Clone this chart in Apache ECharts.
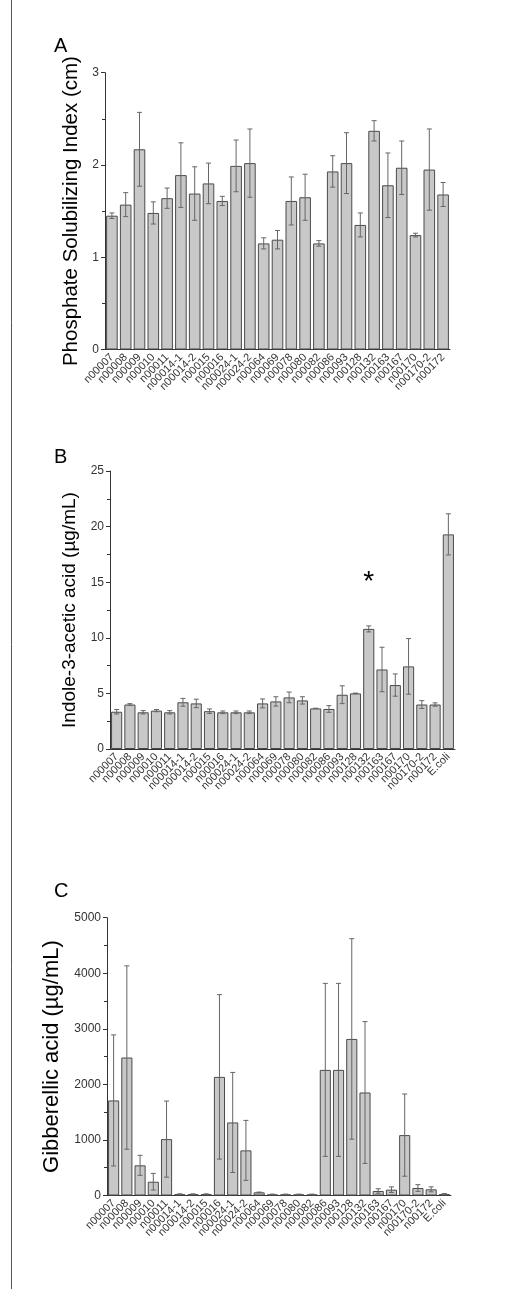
<!DOCTYPE html>
<html>
<head>
<meta charset="utf-8">
<script src="https://cdn.jsdelivr.net/npm/echarts@6/dist/echarts.min.js"></script>
<style>
  html, body { margin: 0; padding: 0; background: #fff; }
  #main { width: 511px; height: 1289px; }
</style>
</head>
<body>
<div id="main"></div>
<script>
// strains, panel A (no E.coli control)
var strainsA = ['n00007', 'n00008', 'n00009', 'n00010', 'n00011', 'n00014-1', 'n00014-2', 'n00015',
  'n00016', 'n00024-1', 'n00024-2', 'n00064', 'n00069', 'n00078', 'n00080', 'n00082', 'n00086',
  'n00093', 'n00128', 'n00132', 'n00163', 'n00167', 'n00170', 'n00170-2', 'n00172']
// panels B and C add the E.coli control
var strainsBC = strainsA.concat(['E.coli'])

// A: phosphate solubilizing index (cm)
var psiMean = [1.45, 1.57, 2.17, 1.48, 1.64, 1.89, 1.69, 1.80, 1.61, 1.99, 2.02, 1.15, 1.19, 1.61, 1.65,
  1.15, 1.93, 2.02, 1.35, 2.37, 1.78, 1.97, 1.24, 1.95, 1.68]
var psiErr = [0.03, 0.13, 0.40, 0.12, 0.11, 0.35, 0.29, 0.22, 0.05, 0.28, 0.37, 0.06, 0.10, 0.26, 0.25,
  0.03, 0.17, 0.33, 0.13, 0.11, 0.35, 0.29, 0.02, 0.44, 0.13]

// B: indole-3-acetic acid (ug/mL)
var iaaMean = [3.35, 4.0, 3.3, 3.45, 3.3, 4.2, 4.1, 3.4, 3.3, 3.3, 3.3, 4.1, 4.28, 4.64, 4.37, 3.65, 3.6,
  4.88, 5.0, 10.8, 7.15, 5.75, 7.43, 4.0, 4.0, 19.3]
var iaaErr = [0.2, 0.08, 0.15, 0.1, 0.15, 0.35, 0.38, 0.2, 0.12, 0.12, 0.12, 0.4, 0.42, 0.48, 0.33, 0.02,
  0.3, 0.8, 0.03, 0.27, 2.0, 1.0, 2.5, 0.35, 0.15, 1.85]

// C: gibberellic acid (ug/mL)
var gaMean = [1711, 2483, 543, 248, 1015, 25, 25, 25, 2135, 1315, 812, 57, 20, 20, 20, 20, 2261, 2261,
  2818, 1854, 81, 105, 1087, 135, 111, 25]
var gaErr = [1180, 1650, 180, 150, 685, 5, 5, 5, 1480, 900, 540, 5, 5, 5, 5, 5, 1557, 1557, 1804, 1276,
  40, 50, 740, 60, 45, 10]

// significance mark in B
var starStrain = 'n00132'
var starValue = 15.0

var myChart = echarts.init(document.getElementById('main'))
var font = 'Liberation Sans, Arial, sans-serif'

function xAxisFor (idx, cats) {
  return {
    type: 'category',
    gridIndex: idx,
    data: cats,
    axisLine: { lineStyle: { color: '#333', width: 1 } },
    axisTick: { alignWithLabel: true, length: 4, lineStyle: { color: '#333' } },
    axisLabel: { rotate: 45, interval: 0, fontSize: 11, color: '#333', fontFamily: font, margin: 6 }
  }
}

function yAxisFor (idx, max, step, name, gap, nameSize) {
  return {
    type: 'value',
    gridIndex: idx,
    min: 0,
    max: max,
    interval: step,
    name: name,
    nameLocation: 'middle',
    nameGap: gap,
    nameTextStyle: { fontSize: nameSize, color: '#000', fontFamily: font },
    splitLine: { show: false },
    axisLine: { show: true, lineStyle: { color: '#333', width: 1 } },
    axisTick: { show: true, length: 4, lineStyle: { color: '#333' } },
    minorTick: { show: true, splitNumber: 2, length: 3, lineStyle: { color: '#333' } },
    axisLabel: {
      fontSize: 12, color: '#333', fontFamily: font, margin: 6,
      formatter: function (v) { return String(v) }
    }
  }
}

function barSeries (idx, values) {
  return {
    type: 'bar',
    xAxisIndex: idx,
    yAxisIndex: idx,
    data: values,
    barWidth: '84%',
    itemStyle: { color: '#c8c8c8', borderColor: '#4a4a4a', borderWidth: 1 },
    silent: true
  }
}

function errorSeries (idx, means, errs) {
  return {
    type: 'custom',
    xAxisIndex: idx,
    yAxisIndex: idx,
    z: 5,
    silent: true,
    encode: { x: 0, y: [1, 2] },
    data: means.map(function (m, i) { return [i, Math.max(0, m - errs[i]), m + errs[i]] }),
    renderItem: function (params, api) {
      var lo = api.coord([api.value(0), api.value(1)])
      var hi = api.coord([api.value(0), api.value(2)])
      var w = 2.5
      var st = { stroke: '#666', lineWidth: 1 }
      return {
        type: 'group',
        children: [
          { type: 'line', shape: { x1: hi[0], y1: hi[1], x2: lo[0], y2: lo[1] }, style: st },
          { type: 'line', shape: { x1: hi[0] - w, y1: hi[1], x2: hi[0] + w, y2: hi[1] }, style: st },
          { type: 'line', shape: { x1: lo[0] - w, y1: lo[1], x2: lo[0] + w, y2: lo[1] }, style: st }
        ]
      }
    }
  }
}

var iaaBars = barSeries(1, iaaMean)
iaaBars.markPoint = {
  symbol: 'circle',
  symbolSize: 0,
  data: [{ coord: [starStrain, starValue] }],
  label: { show: true, formatter: '*', fontSize: 28, color: '#000', fontFamily: font, position: 'inside' }
}

var option = {
  animation: false,
  backgroundColor: '#fff',
  title: [
    { text: 'A', left: 49, top: 31, textStyle: { fontSize: 20, fontWeight: 'normal', color: '#000', fontFamily: font } },
    { text: 'B', left: 49, top: 442, textStyle: { fontSize: 20, fontWeight: 'normal', color: '#000', fontFamily: font } },
    { text: 'C', left: 49, top: 876, textStyle: { fontSize: 20, fontWeight: 'normal', color: '#000', fontFamily: font } }
  ],
  graphic: [
    { type: 'line', shape: { x1: 11.5, y1: 0, x2: 11.5, y2: 1289 }, style: { stroke: '#555', lineWidth: 1 } }
  ],
  grid: [
    { left: 105, right: 61, top: 72.7, bottom: 939.5 },
    { left: 110, right: 56, top: 471, bottom: 540 },
    { left: 107, right: 60, top: 917.7, bottom: 93.5 }
  ],
  xAxis: [xAxisFor(0, strainsA), xAxisFor(1, strainsBC), xAxisFor(2, strainsBC)],
  yAxis: [
    yAxisFor(0, 3, 1, 'Phosphate Solubilizing Index (cm)', 21, 20.5),
    yAxisFor(1, 25, 5, 'Indole-3-acetic acid (µg/mL)', 24, 19),
    yAxisFor(2, 5000, 1000, 'Gibberellic acid (µg/mL)', 37, 22)
  ],
  series: [
    barSeries(0, psiMean),
    errorSeries(0, psiMean, psiErr),
    iaaBars,
    errorSeries(1, iaaMean, iaaErr),
    barSeries(2, gaMean),
    errorSeries(2, gaMean, gaErr)
  ]
}

option && myChart.setOption(option)
</script>
</body>
</html>
